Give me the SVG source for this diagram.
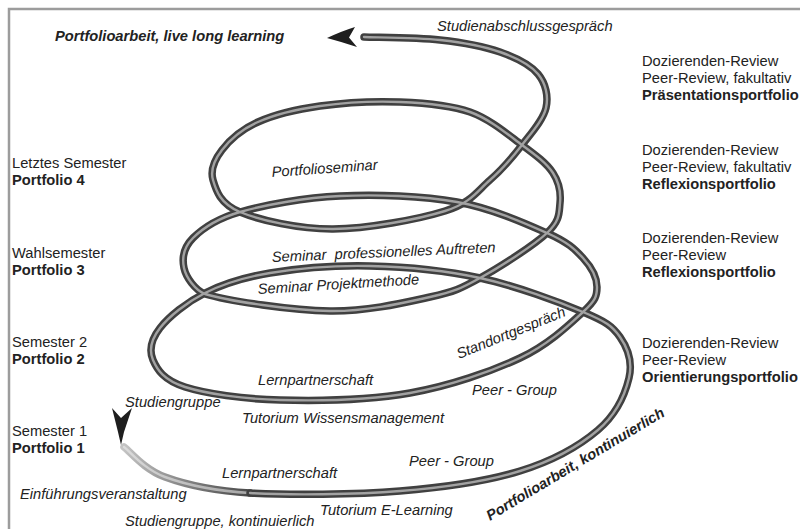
<svg xmlns="http://www.w3.org/2000/svg" width="800" height="529" viewBox="0 0 800 529">
  <defs>
    <style>
      text { font-family: "Liberation Sans", Arial, sans-serif; font-size: 14.7px; fill: #222; }
      .b { font-weight: bold; }
      .i { font-style: italic; }
      .pre { white-space: pre; }
      .tube { fill: none; stroke: #404040; stroke-width: 7.5; stroke-linecap: round; stroke-linejoin: round; }
      .core { fill: none; stroke: #a2a2a2; stroke-width: 2.4; stroke-linecap: round; stroke-linejoin: round; }
      .head { fill: #1e1e1e; }
      .frame { fill: none; stroke: #9c9c9c; stroke-width: 2.5; }
    </style>
    <linearGradient id="fadeIn" gradientUnits="userSpaceOnUse" x1="124" y1="447" x2="260" y2="493">
      <stop offset="0" stop-color="#c4c4c4"/>
      <stop offset="1" stop-color="#404040"/>
    </linearGradient>
    <linearGradient id="fadeInCore" gradientUnits="userSpaceOnUse" x1="124" y1="447" x2="260" y2="493">
      <stop offset="0" stop-color="#dcdcdc"/>
      <stop offset="1" stop-color="#a2a2a2"/>
    </linearGradient>
    <!-- first, faded stretch of the coil -->
    <path id="coilStart" d="M124,447 C130.8,452 144,469.3 165,477 C186,484.7 210.8,490.7 250,493"/>
    <!-- the rest of the coil, winding upward to the top arrow -->
    <path id="coil" d="M250,493
      C289.2,495.3 355,494.7 400,491
      C445,487.3 487,481.2 520,471
      C553,460.8 579.8,445.5 598,430
      C616.2,414.5 625.3,393.5 629,378
      C632.7,362.5 627.7,348 620,337
      C612.3,326 606.3,321.8 583,312
      C559.7,302.2 515.5,285.7 480,278
      C444.5,270.3 405,266.8 370,266
      C335,265.2 297.5,268.5 270,273
      C242.5,277.5 223.3,283.8 205,293
      C186.7,302.2 168.7,316.8 160,328
      C151.3,339.2 148.8,350.2 153,360
      C157.2,369.8 163.8,380.3 185,387
      C206.2,393.7 242.5,399 280,400
      C317.5,401 370,400 410,393
      C450,386 491.2,371.5 520,358
      C548.8,344.5 570.2,323.8 583,312
      C595.8,300.2 597,296 597,287
      C597,278 591.3,267 583,258
      C574.7,249 568,242.3 547,233
      C526,223.7 491.5,208.2 457,202
      C422.5,195.8 376.2,194.3 340,196
      C303.8,197.7 264.5,205 240,212
      C215.5,219 202.3,228.7 193,238
      C183.7,247.3 182,258.7 184,268
      C186,277.3 195,290 205,294
      C229.3,301.2 292.5,310.5 330,311
      C367.5,311.5 405,302.5 430,297
      C455,291.5 460.5,288.7 480,278
      C499.5,267.3 533.7,245.5 547,233
      C560.3,220.5 559,213 560,203
      C561,193 559.3,182.7 553,173
      C546.7,163.3 535.8,155.2 522,145
      C508.2,134.8 490.3,119.2 470,112
      C449.7,104.8 425,103 400,102
      C375,101 343.7,102.7 320,106
      C296.3,109.3 274.3,114.7 258,122
      C241.7,129.3 229.5,140.3 222,150
      C214.5,159.7 210,169.7 213,180
      C216,190.3 220,203.8 240,212
      C260,220.2 298.8,229.2 333,229
      C367.2,228.8 418.8,219.2 445,211
      C471.2,202.8 477.2,191 490,180
      C502.8,169 512.7,157 522,145
      C531.3,133 543.3,119.8 546,108
      C548.7,96.2 545.7,83.3 538,74
      C530.3,64.7 516.3,57.7 500,52
      C483.7,46.3 462.7,42.5 440,40
      C417.3,37.5 376.7,37.5 364,37"/>
  </defs>

  <rect width="800" height="529" fill="#ffffff"/>
  <path class="frame" d="M9,529 V9 H800"/>

  <!-- spiral connector -->
  <g id="connectors">
    <use href="#coilStart" fill="none" stroke="url(#fadeIn)" stroke-width="7.5" stroke-linecap="round"/>
    <use href="#coilStart" fill="none" stroke="url(#fadeInCore)" stroke-width="2.4" stroke-linecap="round"/>
    <use href="#coil" class="tube"/>
    <use href="#coil" class="core"/>
    <path class="head" d="M112,408 L121,418 L132,408 L124,432 L121,445 L118,432 Z"/>
    <path class="head" d="M327,38 Q342,31 355,27 L349,37.5 L357,47 Q342,42 327,38 Z"/>
  </g>

  <g id="title-top">
    <text class="b i" x="55" y="41">Portfolioarbeit, live long learning</text>
  </g>
  <g id="title-bottom">
    <text class="b i" transform="translate(490,521) rotate(-31)">Portfolioarbeit, kontinuierlich</text>
  </g>

  <!-- semester labels -->
  <g id="semester-4">
    <text x="12" y="168">Letztes Semester</text>
    <text class="b" x="12" y="185">Portfolio 4</text>
  </g>
  <g id="semester-3">
    <text x="12" y="258">Wahlsemester</text>
    <text class="b" x="12" y="275">Portfolio 3</text>
  </g>
  <g id="semester-2">
    <text x="12" y="347">Semester 2</text>
    <text class="b" x="12" y="364">Portfolio 2</text>
  </g>
  <g id="semester-1">
    <text x="12" y="436">Semester 1</text>
    <text class="b" x="12" y="453">Portfolio 1</text>
  </g>

  <!-- review columns -->
  <g id="review-presentation">
    <text x="642" y="66">Dozierenden-Review</text>
    <text x="642" y="83">Peer-Review, fakultativ</text>
    <text class="b" x="642" y="100">Präsentationsportfolio</text>
  </g>
  <g id="review-reflection-2">
    <text x="642" y="155">Dozierenden-Review</text>
    <text x="642" y="172">Peer-Review, fakultativ</text>
    <text class="b" x="642" y="189">Reflexionsportfolio</text>
  </g>
  <g id="review-reflection-1">
    <text x="642" y="243">Dozierenden-Review</text>
    <text x="642" y="260">Peer-Review</text>
    <text class="b" x="642" y="277">Reflexionsportfolio</text>
  </g>
  <g id="review-orientation">
    <text x="642" y="348">Dozierenden-Review</text>
    <text x="642" y="365">Peer-Review</text>
    <text class="b" x="642" y="382">Orientierungsportfolio</text>
  </g>

  <!-- activities along the coil -->
  <g id="activities">
    <text class="i" x="437" y="31">Studienabschlussgespräch</text>
    <text class="i" transform="translate(272,177) rotate(-4)">Portfolioseminar</text>
    <text class="i pre" transform="translate(272,262) rotate(-2.5)">Seminar  professionelles Auftreten</text>
    <text class="i" transform="translate(258,294) rotate(-3.5)">Seminar Projektmethode</text>
    <text class="i" transform="translate(459,359) rotate(-22)">Standortgespräch</text>
    <text class="i" x="258" y="385">Lernpartnerschaft</text>
    <text class="i" x="472" y="395">Peer - Group</text>
    <text class="i" x="125" y="407">Studiengruppe</text>
    <text class="i" x="242" y="423">Tutorium Wissensmanagement</text>
    <text class="i" x="222" y="478">Lernpartnerschaft</text>
    <text class="i" x="409" y="466">Peer - Group</text>
    <text class="i" x="20" y="499">Einführungsveranstaltung</text>
    <text class="i" x="320" y="515">Tutorium E-Learning</text>
    <text class="i" x="125" y="526">Studiengruppe, kontinuierlich</text>
  </g>
</svg>
